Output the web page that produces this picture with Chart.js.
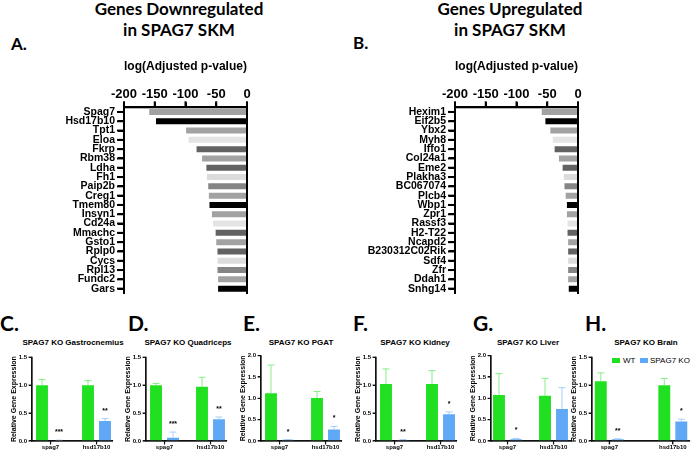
<!DOCTYPE html>
<html><head><meta charset="utf-8">
<script src="https://cdn.jsdelivr.net/npm/chart.js@4.4.0/dist/chart.umd.min.js"></script>
<style>
html,body{margin:0;padding:0;background:#fff;width:691px;height:454px;overflow:hidden;position:relative;}
canvas{position:absolute;}
.t{position:absolute;white-space:nowrap;color:#000;}
.big{font-family:Lato,'Open Sans',sans-serif;font-weight:700;}
.sm{font-family:'Liberation Sans',Arial,sans-serif;font-weight:700;font-size:8px;line-height:10px;text-align:center;width:130px;}
.lg{font-family:'Liberation Sans',Arial,sans-serif;font-size:8px;line-height:9px;}
.box{position:absolute;width:8px;height:5px;}
</style></head><body>
<div class="t big" style="left:79px;top:-2px;width:200px;text-align:center;font-size:17px;line-height:21px;">Genes Downregulated<br>in SPAG7 SKM</div>
<div class="t big" style="left:410px;top:-2px;width:200px;text-align:center;font-size:17px;line-height:21px;">Genes Upregulated<br>in SPAG7 SKM</div>
<div class="t big" style="left:11px;top:35px;font-size:17px;line-height:17px;">A.</div>
<div class="t big" style="left:353px;top:34px;font-size:17px;line-height:17px;">B.</div>
<div class="t big" style="left:0px;top:312px;font-size:21px;line-height:21px;">C.</div>
<div class="t big" style="left:128px;top:312px;font-size:21px;line-height:21px;">D.</div>
<div class="t big" style="left:243px;top:312px;font-size:21px;line-height:21px;">E.</div>
<div class="t big" style="left:353px;top:312px;font-size:21px;line-height:21px;">F.</div>
<div class="t big" style="left:473px;top:312px;font-size:21px;line-height:21px;">G.</div>
<div class="t big" style="left:585px;top:312px;font-size:21px;line-height:21px;">H.</div>
<div class="t sm" style="left:8px;top:337.5px;">SPAG7 KO Gastrocnemius</div>
<div class="t sm" style="left:123px;top:337.5px;">SPAG7 KO Quadriceps</div>
<div class="t sm" style="left:236px;top:337.5px;">SPAG7 KO PGAT</div>
<div class="t sm" style="left:350px;top:337.5px;">SPAG7 KO Kidney</div>
<div class="t sm" style="left:463px;top:337.5px;">SPAG7 KO Liver</div>
<div class="t sm" style="left:581px;top:337.5px;">SPAG7 KO Brain</div>
<div class="box" style="left:612px;top:357.5px;background:#21e021;"></div>
<div class="t lg" style="left:623px;top:355.5px;">WT</div>
<div class="box" style="left:640px;top:357.5px;background:#5ea8f6;"></div>
<div class="t lg" style="left:650px;top:355.5px;">SPAG7 KO</div>

<canvas id="cA"></canvas><canvas id="cB"></canvas>
<canvas id="cC"></canvas><canvas id="cD"></canvas><canvas id="cE"></canvas>
<canvas id="cF"></canvas><canvas id="cG"></canvas><canvas id="cH"></canvas>
<script>
// ---------- data ----------
const geneDown = ['Spag7','Hsd17b10','Tpt1','Eloa','Fkrp','Rbm38','Ldha','Fh1','Paip2b','Creg1','Tmem80','Insyn1','Cd24a','Mmachc','Gsto1','Rplp0','Cycs','Rpl13','Fundc2','Gars'];
const logPDown = [-159,-148,-99,-95,-82,-73,-66,-65,-63,-62,-61,-57,-55,-51,-50,-48,-48,-48,-47,-47];
const geneUp = ['Hexim1','Eif2b5','Ybx2','Myh8','Iffo1','Col24a1','Eme2','Plakha3','BC067074','Plcb4','Wbp1','Zpr1','Rassf3','H2-T22','Ncapd2','B230312C02Rik','Sdf4','Zfr','Ddah1','Snhg14'];
const logPUp = [-59,-53,-45,-41,-38,-31,-25,-23,-22,-20,-18,-18,-17,-17,-16,-16,-16,-16,-16,-15];
const xTicksLogP = [-200,-150,-100,-50,0];

const targets = ['spag7','hsd17b10'];
const gastroWT = [1.00, 1.00], gastroWTsd = [0.10, 0.08], gastroKO = [0.01, 0.36], gastroKOsd = [0.005, 0.04], gastroSig = ['***','**'];
const quadWT = [1.00, 0.97], quadWTsd = [0.03, 0.17], quadKO = [0.06, 0.39], quadKOsd = [0.10, 0.04], quadSig = ['***','**'];
const pgatWT = [1.12, 1.01], pgatWTsd = [0.66, 0.15], pgatKO = [0.03, 0.27], pgatKOsd = [0.005, 0.07], pgatSig = ['*','*'];
const kidneyWT = [1.02, 1.02], kidneyWTsd = [0.27, 0.24], kidneyKO = [0.02, 0.48], kidneyKOsd = [0.005, 0.04], kidneySig = ['**','*'];
const liverWT = [1.08, 1.06], liverWTsd = [0.50, 0.41], liverKO = [0.04, 0.75], liverKOsd = [0.02, 0.50], liverSig = ['*',''];
const brainWT = [1.07, 1.00], brainWTsd = [0.15, 0.12], brainKO = [0.03, 0.35], brainKOsd = [0.01, 0.04], brainSig = ['**','*'];

// ---------- styles ----------
const SHADES = ['#a2a2a2','#000000','#a2a2a2','#e4e4e4','#626262','#a2a2a2','#626262','#dcdcdc','#858585'];
const GREEN = '#21e021', GREEN_ERR = '#86ee86';
const BLUE = '#5ea8f6', BLUE_ERR = '#a6cffa';
const SANS = "'Liberation Sans', Arial, sans-serif";

function place(id, left, top, w, h) {
  const c = document.getElementById(id);
  c.width = w; c.height = h;
  c.style.left = left + 'px'; c.style.top = top + 'px';
  c.style.width = w + 'px'; c.style.height = h + 'px';
  return c;
}

// zero line and reinforced axes for the ranked gene charts
const geneAxes = {
  id: 'geneAxes',
  afterDatasetsDraw(chart) {
    const { ctx, chartArea: a, scales: { x, y } } = chart;
    ctx.save();
    ctx.fillStyle = '#000';
    ctx.fillRect(a.left - 1, a.top - 1, a.right - a.left + 2, 2);
    ctx.fillRect(a.left - 1, a.top - 1, 2, a.bottom - a.top + 1.7);
    const z = x.getPixelForValue(0);
    ctx.fillRect(z - 1, a.top - 1, 2, a.bottom - a.top + 1.7);
    x.ticks.forEach(t => ctx.fillRect(x.getPixelForValue(t.value) - 1, a.top - 6, 2, 5));
    y.ticks.forEach((t, i) => ctx.fillRect(a.left - 7, y.getPixelForTick(i) - 1, 6, 2));
    ctx.restore();
  }
};

function geneChart(id, labels, values, canvasLeft, axisX, zeroX) {
  const top = 55, h = 248, padR = 14, areaTop = 107.3, areaBottom = 293.3;
  const c = place(id, canvasLeft, top, zeroX - canvasLeft + padR, h);
  new Chart(c, {
    type: 'bar',
    data: { labels: labels, datasets: [{ data: values, backgroundColor: labels.map((_, i) => SHADES[i % SHADES.length]), barPercentage: 0.64, categoryPercentage: 1 }] },
    options: {
      indexAxis: 'y', responsive: false, animation: false, devicePixelRatio: 1,
      layout: { padding: { left: 0, right: padR, top: 0, bottom: top + h - areaBottom } },
      plugins: { legend: { display: false } },
      scales: {
        x: {
          type: 'linear', position: 'top', min: xTicksLogP[0], max: xTicksLogP[xTicksLogP.length - 1], offset: false,
          afterBuildTicks: s => { s.ticks = xTicksLogP.map(v => ({ value: v })); },
          afterFit: s => { s.height = areaTop - top; },
          ticks: { color: '#000', font: { family: SANS, size: 13, weight: 'bold' }, padding: 0, maxRotation: 0 },
          grid: { display: true, drawOnChartArea: false, drawTicks: true, tickLength: 5, color: '#000', tickColor: '#000', lineWidth: 2 },
          border: { display: true, color: '#000', width: 2 },
          title: { display: true, text: 'log(Adjusted p-value)', color: '#000', font: { family: SANS, size: 13.5, weight: 'bold' }, padding: { top: 3, bottom: 0 } }
        },
        y: {
          afterFit: s => { s.width = axisX - canvasLeft; },
          ticks: { color: '#000', autoSkip: false, font: { family: SANS, size: 10.5, weight: 'bold' }, padding: 3 },
          grid: { display: true, drawOnChartArea: false, drawTicks: true, offset: false, tickLength: 6, color: '#000', tickColor: '#000', lineWidth: 2 },
          border: { display: true, color: '#000', width: 2 }
        }
      }
    },
    plugins: [geneAxes]
  });
}

geneChart('cA', geneDown, logPDown, 0, 124, 247);
geneChart('cB', geneUp, logPUp, 345, 455, 578.3);

// error bars, significance stars and reinforced axes for the qPCR panels
const errPlugin = {
  id: 'errbars',
  afterDatasetsDraw(chart) {
    const { ctx, chartArea: a, scales: { x, y } } = chart;
    chart.data.datasets.forEach((ds, di) => {
      const meta = chart.getDatasetMeta(di);
      meta.data.forEach((bar, j) => {
        const v = ds.data[j].y, sd = ds.sd[j];
        const yTop = y.getPixelForValue(v + sd);
        ctx.save();
        ctx.fillStyle = ds.errColor;
        ctx.fillRect(bar.x - 0.5, yTop, 1, bar.y - yTop);
        ctx.fillRect(bar.x - 3.5, yTop - 0.5, 7, 1);
        if (ds.sig && ds.sig[j]) {
          ctx.fillStyle = '#000';
          ctx.font = 'bold 7px ' + SANS;
          ctx.textAlign = 'center'; ctx.textBaseline = 'alphabetic';
          ctx.fillText(ds.sig[j], bar.x, yTop - 6);
        }
        ctx.restore();
      });
    });
    ctx.save();
    ctx.fillStyle = '#111';
    ctx.fillRect(a.left - 0.6, a.top - 0.5, 1.2, a.bottom - a.top + 1.1);
    ctx.fillRect(a.left - 0.6, a.bottom - 0.6, a.right - a.left + 0.6, 1.2);
    y.ticks.forEach(t => ctx.fillRect(a.left - 3.5, y.getPixelForValue(t.value) - 0.55, 3.5, 1.1));
    x.ticks.forEach(t => ctx.fillRect(x.getPixelForValue(t.value) - 0.55, a.bottom, 1.1, 3.5));
    ctx.restore();
  }
};

function qpcrChart(id, x0, w, k, c1, yMax, wt, wtSd, ko, koSd, sig) {
  const left = x0 - 32, top = 350, h = 104, padR = 14;
  const zeroY = 441;
  const topY = yMax > 1.6 ? 355.7 : 357.2;
  const c = place(id, left, top, 32 + w + padR, h);
  const catPct = 34 / k;
  new Chart(c, {
    type: 'bar',
    data: {
      datasets: [
        { label: 'WT', data: wt.map((v, i) => ({ x: i, y: v })), sd: wtSd, errColor: GREEN_ERR, backgroundColor: GREEN, categoryPercentage: catPct, barPercentage: 0.7 },
        { label: 'SPAG7 KO', data: ko.map((v, i) => ({ x: i, y: v })), sd: koSd, sig: sig, errColor: BLUE_ERR, backgroundColor: BLUE, categoryPercentage: catPct, barPercentage: 0.7 }
      ]
    },
    options: {
      responsive: false, animation: false, devicePixelRatio: 1,
      layout: { padding: { left: 0, right: padR, top: topY - top, bottom: 0 } },
      plugins: { legend: { display: false } },
      scales: {
        x: {
          type: 'linear', min: -c1 / k, max: (w - c1) / k, offset: false,
          afterBuildTicks: s => { s.ticks = targets.map((_, i) => ({ value: i })); },
          afterFit: s => { s.height = top + h - zeroY; },
          ticks: { callback: (v, i) => targets[i], color: '#000', font: { family: SANS, size: 6, weight: 'bold' }, padding: 0, maxRotation: 0, autoSkip: false },
          grid: { display: true, drawOnChartArea: false, drawTicks: true, offset: false, tickLength: 3, color: '#111', tickColor: '#111', lineWidth: 1.1 },
          border: { display: true, color: '#111', width: 1.2 }
        },
        y: {
          min: 0, max: yMax,
          afterFit: s => { s.width = 32; },
          ticks: { stepSize: 0.5, callback: v => v.toFixed(1), color: '#000', font: { family: SANS, size: 6, weight: 'bold' }, padding: 2 },
          grid: { display: true, drawOnChartArea: false, drawTicks: true, tickLength: 3, color: '#111', tickColor: '#111', lineWidth: 1.1 },
          border: { display: true, color: '#111', width: 1.2 },
          title: { display: true, text: 'Relative Gene Expression', color: '#000', font: { family: SANS, size: 7, weight: 'bold' }, padding: { top: 9.4, bottom: 0 } }
        }
      }
    },
    plugins: [errPlugin]
  });
}

qpcrChart('cC', 31.7, 81, 46, 18.5, 1.5, gastroWT, gastroWTsd, gastroKO, gastroKOsd, gastroSig);
qpcrChart('cD', 145.7, 81, 46, 18.5, 1.5, quadWT, quadWTsd, quadKO, quadKOsd, quadSig);
qpcrChart('cE', 260.7, 81, 46, 18.5, 2.0, pgatWT, pgatWTsd, pgatKO, pgatKOsd, pgatSig);
qpcrChart('cF', 375.7, 81, 46, 18.5, 1.5, kidneyWT, kidneyWTsd, kidneyKO, kidneyKOsd, kidneySig);
qpcrChart('cG', 490.7, 81, 46, 16.5, 2.0, liverWT, liverWTsd, liverKO, liverKOsd, liverSig);
qpcrChart('cH', 591.7, 98, 63.5, 17.3, 1.5, brainWT, brainWTsd, brainKO, brainKOsd, brainSig);
</script>
</body></html>
